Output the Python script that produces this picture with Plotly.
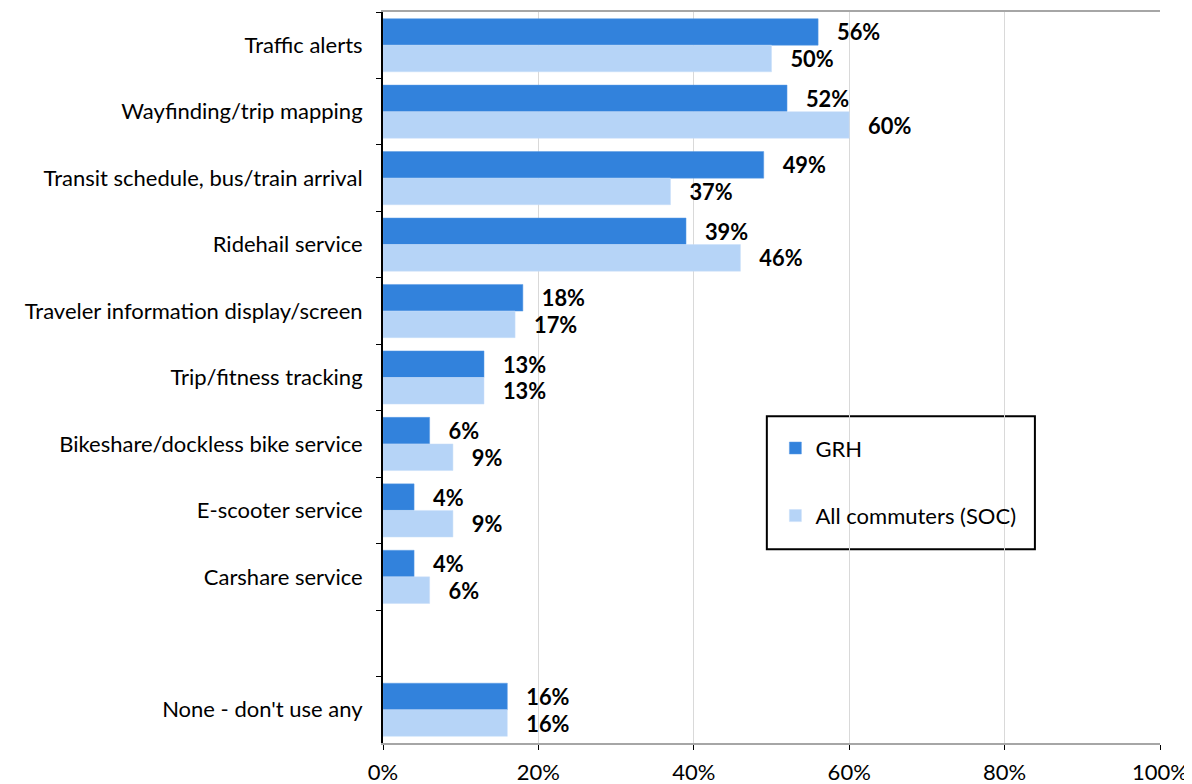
import plotly.graph_objects as go

categories = [
    "Traffic alerts",
    "Wayfinding/trip mapping",
    "Transit schedule, bus/train arrival",
    "Ridehail service",
    "Traveler information display/screen",
    "Trip/fitness tracking",
    "Bikeshare/dockless bike service",
    "E-scooter service",
    "Carshare service",
    "None - don't use any",
]
axis_order = categories[:9] + [" "] + categories[9:]

grh = [0.56, 0.52, 0.49, 0.39, 0.18, 0.13, 0.06, 0.04, 0.04, 0.16]
soc = [0.50, 0.60, 0.37, 0.46, 0.17, 0.13, 0.09, 0.09, 0.06, 0.16]

x_ticks = [0, 0.2, 0.4, 0.6, 0.8, 1.0]

FONT = "Lato"
pad = "\u00a0\u00a0\u00a0"

fig = go.Figure()
fig.add_trace(go.Bar(
    y=categories, x=grh, orientation="h", name="GRH",
    marker=dict(color="#3282DC", line=dict(color="#5B9BE4", width=0.5)),
    texttemplate=pad + "%{x:.0%}", textposition="outside",
    textfont=dict(family=FONT, size=23, color="black", weight="bold"),
    cliponaxis=False, legendrank=1, legendgroup="a",
))
fig.add_trace(go.Bar(
    y=categories, x=soc, orientation="h", name="All commuters (SOC)",
    marker=dict(color="#B6D4F7", line=dict(color="#C9DFF9", width=0.5)),
    texttemplate=pad + "%{x:.0%}", textposition="outside",
    textfont=dict(family=FONT, size=23, color="black", weight="bold"),
    cliponaxis=False, legendrank=2, legendgroup="b",
))

fig.update_layout(
    width=1184, height=776,
    margin=dict(l=375, r=32, t=4, b=41),
    plot_bgcolor="white", paper_bgcolor="white",
    barmode="group", bargap=0.2, bargroupgap=0,
    font=dict(family=FONT, size=22, color="black"),
    legend=dict(
        x=0.505, y=0.432, xanchor="left", yanchor="top",
        bgcolor="rgba(0,0,0,0)", borderwidth=0,
        font=dict(family=FONT, size=22, color="black"),
        traceorder="grouped", tracegroupgap=36,
        itemwidth=30,
    ),
    showlegend=True,
    shapes=[dict(
        type="rect", xref="paper", yref="paper",
        x0=0.494, x1=0.839, y0=0.265, y1=0.447,
        line=dict(color="black", width=2), fillcolor="white", layer="below",
    )],
)
fig.update_xaxes(
    range=[0, 1], tickvals=x_ticks, tickformat=".0%",
    showgrid=True, gridcolor="#D9D9D9", gridwidth=1,
    showline=True, linecolor="#A6A6A6", linewidth=2, mirror=True,
    ticks="outside", ticklen=5, tickcolor="black", tickwidth=1,
    tickfont=dict(family=FONT, size=22, color="black"),
    zeroline=False, layer="below traces",
    ticklabelstandoff=4, ticklabeloverflow="allow", automargin=False,
)
fig.update_yaxes(
    type="category", categoryorder="array", categoryarray=axis_order,
    range=[len(axis_order) - 0.5, -0.5],
    showline=True, linecolor="black", linewidth=2,
    ticks="outside", ticklen=5, tickcolor="black", tickwidth=1,
    tickson="boundaries", showgrid=False,
    tickfont=dict(family=FONT, size=22, color="black"),
    ticklabelstandoff=14, automargin=False,
)

fig.write_html("out.html")
